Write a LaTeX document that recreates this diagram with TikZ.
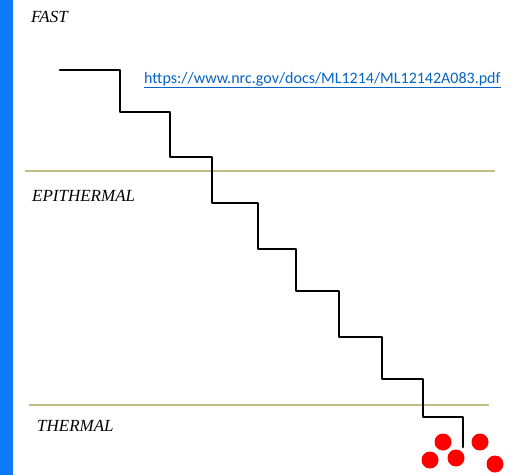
\documentclass[tikz,border=0pt]{standalone}
\usepackage{fontspec}
\setmainfont{Liberation Serif}
\newfontfamily\linkfont{Carlito}
\usepackage{tikz}
\usetikzlibrary{positioning}

\definecolor{barblue}{RGB}{12,122,246}
\definecolor{bandline}{RGB}{192,190,132}
\definecolor{linkblue}{RGB}{5,99,193}

\begin{document}
\begin{tikzpicture}[x=1pt,y=-1pt,
  band/.style={font=\fontsize{17}{17}\selectfont\itshape,anchor=west,inner sep=0pt},
  stair/.style={line width=2.8pt,line join=round,line cap=round}]
\useasboundingbox (0,0) rectangle (520,475);
\fill[barblue] (0,0) rectangle (12.5,475);
% energy bands
\draw[bandline,line width=1.3pt] (25,171) -- (495,171);
\draw[bandline,line width=1.3pt] (29,405) -- (489,405);
\node[band] (fast) at (31,17) {FAST};
\node[band] (epi) at (32,196) {EPITHERMAL};
\node[band] (therm) at (37,426) {THERMAL};
\node[anchor=west,inner sep=0pt,text=linkblue,font=\linkfont\fontsize{16}{16}\selectfont] (url) at (144,80) {\underline{https://www.nrc.gov/docs/ML1214/ML12142A083.pdf}};
% slowing down
\draw[stair] (60,70) -- (120,70) -- (120,112) -- (170,112) -- (170,157) -- (212,157)
  -- (212,203) -- (258,203) -- (258,249) -- (296,249) -- (296,291) -- (339,291)
  -- (339,337) -- (382,337) -- (382,379) -- (423,379) -- (423,417) -- (463,417) -- (463,447);
\foreach \px/\py in {443/442, 480/442, 430/460, 456/458, 495/464}
  \fill[red] (\px,\py) circle (8.5);
\end{tikzpicture}
\end{document}
